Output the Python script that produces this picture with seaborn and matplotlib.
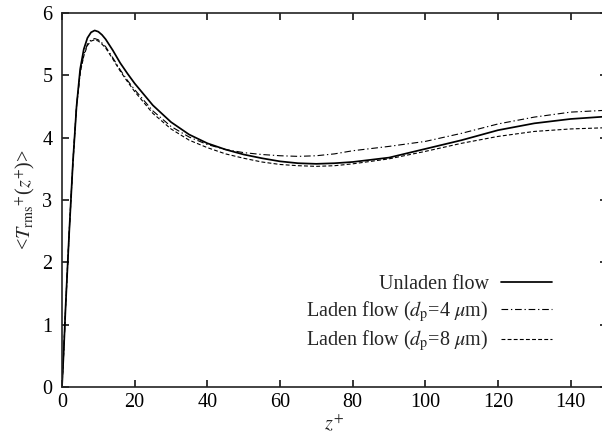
import matplotlib
matplotlib.use("Agg")
import matplotlib.pyplot as plt
import seaborn as sns
import pandas as pd

# ---- data ----
z_plus = [0, 0.5, 1, 2, 3, 4, 5, 6, 7, 8, 9, 10, 11, 12, 14, 16, 18, 20,
          25, 30, 35, 40, 45, 50, 55, 60, 65, 70, 75, 80, 90, 100, 110,
          120, 130, 140, 150]
unladen = [0, 0.6, 1.3, 2.5, 3.6, 4.5, 5.1, 5.42, 5.6, 5.69, 5.72, 5.70,
           5.65, 5.58, 5.40, 5.20, 5.03, 4.87,
           4.52, 4.25, 4.05, 3.91, 3.81, 3.73, 3.67, 3.62, 3.59, 3.58,
           3.59, 3.61, 3.68, 3.82, 3.96, 4.12, 4.23, 4.30, 4.34]
laden_4um = [0, 0.6, 1.3, 2.5, 3.6, 4.5, 5.05, 5.33, 5.50, 5.57, 5.59,
             5.57, 5.52, 5.46, 5.28, 5.09, 4.92, 4.77,
             4.43, 4.18, 4.01, 3.89, 3.81, 3.76, 3.73, 3.71, 3.70, 3.71,
             3.74, 3.79, 3.86, 3.94, 4.07, 4.22, 4.33, 4.41, 4.44]
laden_8um = [0, 0.6, 1.3, 2.5, 3.6, 4.5, 5.04, 5.31, 5.48, 5.55, 5.57,
             5.55, 5.50, 5.44, 5.26, 5.07, 4.90, 4.74,
             4.39, 4.14, 3.96, 3.84, 3.74, 3.67, 3.61, 3.57, 3.55, 3.54,
             3.55, 3.58, 3.66, 3.78, 3.91, 4.02, 4.10, 4.14, 4.16]

labels = ["Unladen flow",
          r"Laden flow ($d_{\rm p}$=4 $\mu$m)",
          r"Laden flow ($d_{\rm p}$=8 $\mu$m)"]
x_ticks = [0, 20, 40, 60, 80, 100, 120, 140]
y_ticks = [0, 1, 2, 3, 4, 5, 6]

sns.set_theme(style="ticks")
plt.rcParams["font.family"] = ["Liberation Serif", "DejaVu Serif"]
plt.rcParams["mathtext.fontset"] = "stix"

FS = 14.5
fig = plt.figure(figsize=(6.02, 4.41), dpi=100)
ax = fig.add_axes([62 / 602, 54 / 441, 545 / 602, 374 / 441])

styles = [dict(linestyle="-", linewidth=1.25),
          dict(linestyle=(0, (6, 2.5, 1.2, 2.5)), linewidth=0.8),
          dict(linestyle=(0, (3.5, 2)), linewidth=0.8)]
for series, lab, st in zip([unladen, laden_4um, laden_8um], labels, styles):
    df = pd.DataFrame({"z": z_plus, "T": series})
    sns.lineplot(data=df, x="z", y="T", ax=ax, color="black", label=lab,
                 sort=False, **st)

ax.set_xlim(0, 150)
ax.set_ylim(0, 6)
ax.set_xticks(x_ticks)
ax.set_yticks(y_ticks)
ax.tick_params(direction="in", top=True, right=True, length=5, width=1.1,
               labelsize=FS, colors="black")
ax.tick_params(axis="x", pad=4)
ax.tick_params(axis="y", pad=7)
for sp in ax.spines.values():
    sp.set_linewidth(1.2)
    sp.set_color("#222222")
    sp.set_visible(True)

ax.set_xlabel(r"$z^{+}$", fontsize=FS, labelpad=2)
ax.set_ylabel(r"<$T_{\rm rms}$$^{+}$($z^{+}$)>", fontsize=FS, labelpad=4)

leg = ax.legend(loc="center right", bbox_to_anchor=(552 / 602, 1 - 314 / 441),
                bbox_transform=fig.transFigure, frameon=False, markerfirst=False,
                fontsize=FS, handlelength=2.55, handletextpad=0.6,
                labelspacing=0.25, borderpad=0, borderaxespad=0)

fig.savefig("out.png", dpi=100, facecolor="white")
